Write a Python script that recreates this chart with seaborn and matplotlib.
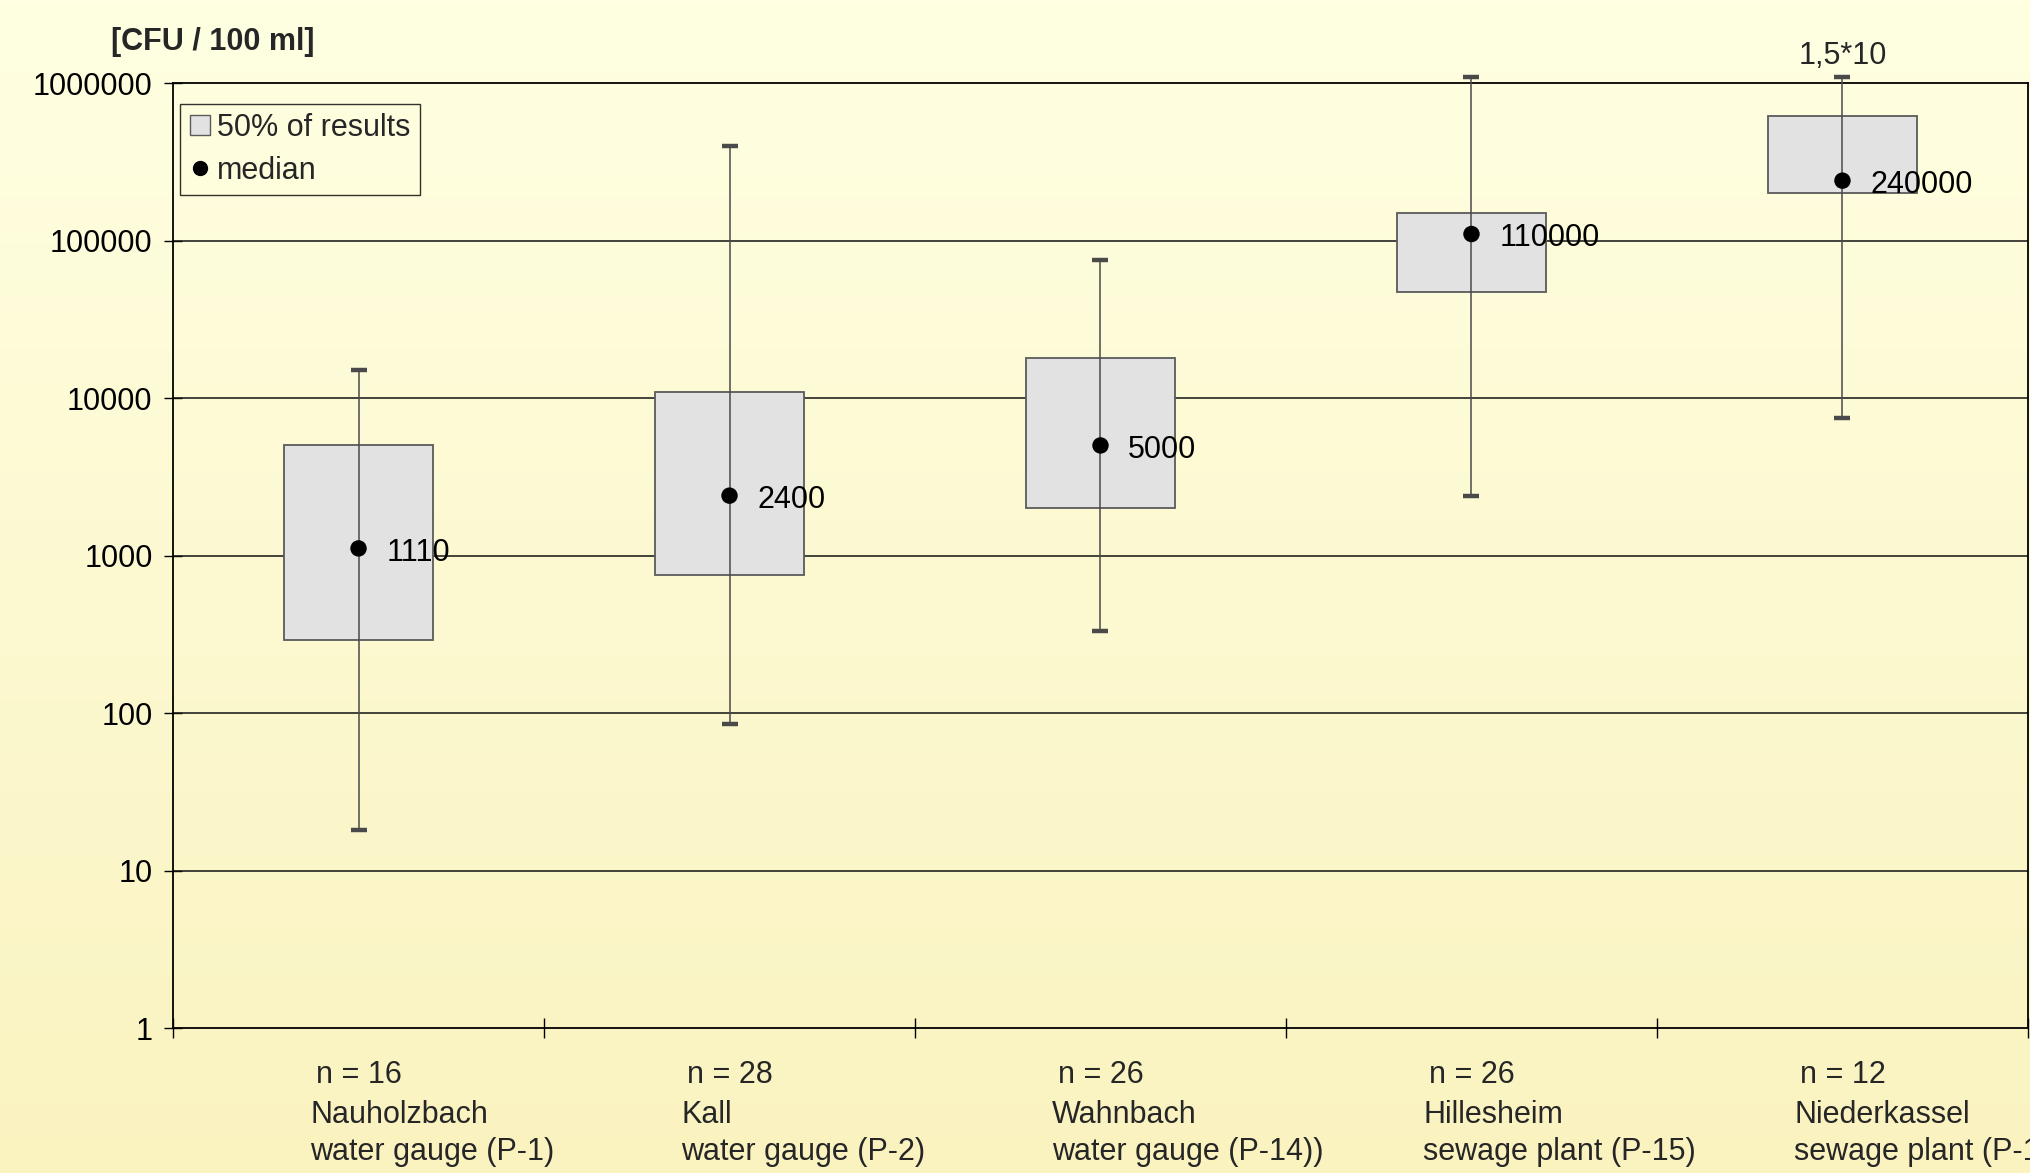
import numpy as np
import pandas as pd
import seaborn as sns
import matplotlib.pyplot as plt
from matplotlib.lines import Line2D
from matplotlib.colors import LinearSegmentedColormap

# Datos (UFC / 100 ml)
sites = ["Nauholzbach", "Kall", "Wahnbach", "Hillesheim", "Niederkassel"]
site_types = ["water gauge (P-1)", "water gauge (P-2)", "water gauge (P-14))",
              "sewage plant (P-15)", "sewage plant (P-16)"]
n_samples = [16, 28, 26, 26, 12]
minimum = [18, 85, 330, 2400, 7500]
q1 = [290, 750, 2000, 47000, 200000]
median = [1110, 2400, 5000, 110000, 240000]
q3 = [5000, 11000, 18000, 150000, 620000]
maximum = [15000, 400000, 75000, 1100000, 1500000]
max_label = "1,5*10"
plot_top = 1100000  # the chart stops the whiskers here

df = pd.DataFrame({"site": sites, "type": site_types, "n": n_samples,
                   "min": minimum, "q1": q1, "median": median,
                   "q3": q3, "max": maximum})
df["x"] = np.arange(len(df))
df["max_drawn"] = np.minimum(df["max"], plot_top)

sns.set_style("white")
plt.rcParams["font.family"] = ["Liberation Sans", "DejaVu Sans"]
FS = 22

fig = plt.figure(figsize=(20.31, 11.73), dpi=100)

# fondo degradado
bg = fig.add_axes([0, 0, 1, 1], zorder=-10)
cmap = LinearSegmentedColormap.from_list("bg", ["#ffffe2", "#faf3c0"])
bg.imshow(np.linspace(0, 1, 256).reshape(-1, 1), aspect="auto", cmap=cmap,
          extent=[0, 1, 0, 1])
bg.set_axis_off()

ax = fig.add_axes([0.0852, 0.1236, 0.9133, 0.8056])
ax.set_facecolor("none")
ax.set_yscale("log")
ax.set_ylim(1, 1e6)
ax.set_xlim(-0.5, len(df) - 0.5)

# líneas horizontales
for v in [10, 100, 1000, 10000, 100000]:
    ax.axhline(v, color="#111111", lw=1.1, zorder=1)

# cajas (50% de resultados)
ax.bar(df["x"], df["q3"] - df["q1"], bottom=df["q1"], width=0.4,
       color="#e2e2e2", edgecolor="#5a5a5a", linewidth=1.3, zorder=2)

# bigotes
eb = ax.errorbar(df["x"], df["median"],
                 yerr=[df["median"] - df["min"], df["max_drawn"] - df["median"]],
                 fmt="none", ecolor="#4a4a4a", elinewidth=1.1, capsize=5.8,
                 capthick=3.2, zorder=3, clip_on=False)
for cap in eb[1]:
    cap.set_color("black")

# medianas
sns.scatterplot(data=df, x="x", y="median", color="black", s=140,
                edgecolor="none", ax=ax, zorder=4, legend=False)
for _, r in df.iterrows():
    ax.annotate(f"{r['median']}", (r["x"], r["median"]), xytext=(20, -3),
                textcoords="offset points", ha="left", va="center",
                fontsize=FS, color="black", zorder=5)

ax.annotate(max_label, (df["x"].iloc[-1], df["max_drawn"].iloc[-1]),
            xytext=(0, 9), textcoords="offset points", ha="center",
            va="baseline", fontsize=FS, annotation_clip=False)

# ejes
ax.set_yticks([1, 10, 100, 1000, 10000, 100000, 1000000])
ax.set_yticklabels(["1", "10", "100", "1000", "10000", "100000", "1000000"])
ax.yaxis.set_minor_locator(plt.NullLocator())
ax.set_xticks(np.arange(-0.5, len(df), 1.0))
ax.set_xticklabels([])
ax.tick_params(axis="y", direction="inout", length=13.5, width=1,
               labelsize=FS, pad=8, colors="black", left=True)
ax.tick_params(axis="x", direction="inout", length=14, width=1,
               colors="black", bottom=True)
ax.set_xlabel("")
ax.set_ylabel("")
for sp in ax.spines.values():
    sp.set_visible(True)
    sp.set_color("black")
    sp.set_linewidth(1.3)

# etiquetas inferiores
trans = ax.get_xaxis_transform()
for _, r in df.iterrows():
    ax.text(r["x"] - 0.115, -0.050, f"n = {r['n']}", transform=trans,
            ha="left", va="center", fontsize=FS, clip_on=False)
    ax.text(r["x"] - 0.13, -0.092, r["site"], transform=trans,
            ha="left", va="center", fontsize=FS, clip_on=False)
    ax.text(r["x"] - 0.13, -0.131, r["type"], transform=trans,
            ha="left", va="center", fontsize=FS, clip_on=False)

fig.text(0.0547, 0.964, "[CFU / 100 ml]", ha="left", va="center",
         fontsize=FS, fontweight="bold")

handles = [
    Line2D([], [], marker="s", linestyle="none", markersize=14,
           markerfacecolor="#e2e2e2", markeredgecolor="#5a5a5a",
           markeredgewidth=1),
    Line2D([], [], marker="o", linestyle="none", markersize=10,
           markerfacecolor="black", markeredgecolor="black"),
]
leg = ax.legend(handles, ["50% of results", "median"], loc="upper left",
                bbox_to_anchor=(0.004, 0.978), borderaxespad=0, fontsize=FS,
                frameon=True, fancybox=False, handlelength=0.7,
                handletextpad=0.2, labelspacing=0.42, borderpad=0.3)
leg.get_frame().set_edgecolor("black")
leg.get_frame().set_facecolor("none")
leg.get_frame().set_linewidth(1)

fig.savefig("out.png", dpi=100)
